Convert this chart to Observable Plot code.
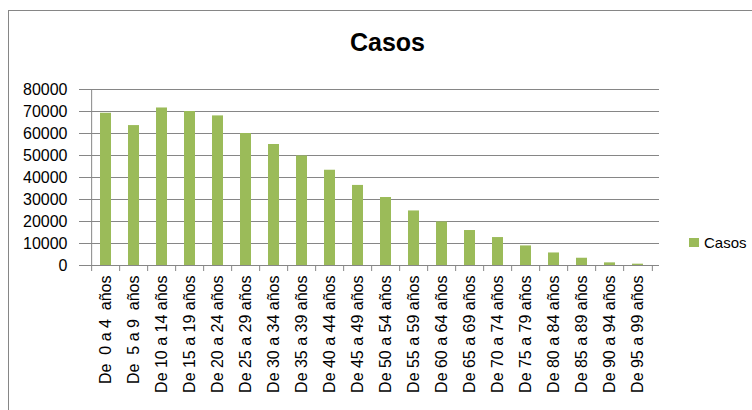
<!DOCTYPE html>
<html>
<head>
<meta charset="utf-8">
<script src="https://cdn.jsdelivr.net/npm/d3@7"></script>
<script src="https://cdn.jsdelivr.net/npm/@observablehq/plot@0.6"></script>
<style>
  html, body { margin: 0; padding: 0; background: #fff; overflow: hidden; }
  #wrap { position: relative; width: 752px; height: 410px; overflow: hidden; font-family: "Liberation Sans", Arial, sans-serif; }
  #frame { position: absolute; left: 8px; top: 10px; width: 900px; height: 600px; border: 1px solid #868686; box-sizing: border-box; }
  #title { position: absolute; left: 0; width: 775px; top: 28px; text-align: center; font-size: 25px; font-weight: bold; color: #000; }
  #legend { position: absolute; left: 689px; top: 234px; font-size: 15px; color: #000; display: flex; align-items: center; }
  #legend .sw { width: 10px; height: 9px; background: #9bbb59; margin-right: 5px; }
  #chart { position: absolute; left: 0; top: 0; }
  svg text { white-space: pre; }
</style>
</head>
<body>
<div id="wrap">
  <div id="frame"></div>
  <div id="chart"></div>
  <div id="title">Casos</div>
  <div id="legend"><div class="sw"></div><span>Casos</span></div>
</div>
<script>
const categories = [
  "De  0 a 4  años", "De  5 a 9  años", "De 10 a 14 años", "De 15 a 19 años",
  "De 20 a 24 años", "De 25 a 29 años", "De 30 a 34 años", "De 35 a 39 años",
  "De 40 a 44 años", "De 45 a 49 años", "De 50 a 54 años", "De 55 a 59 años",
  "De 60 a 64 años", "De 65 a 69 años", "De 70 a 74 años", "De 75 a 79 años",
  "De 80 a 84 años", "De 85 a 89 años", "De 90 a 94 años", "De 95 a 99 años"
];
const casos = [
  69200, 63600, 71600, 70000, 68000, 60000, 55000, 49800, 43300, 36400,
  30900, 24800, 19800, 15900, 12700, 8900, 5700, 3300, 1200, 600
];
const yTicks = [0, 10000, 20000, 30000, 40000, 50000, 60000, 70000, 80000];

const data = categories.map((c, i) => ({cat: c, casos: casos[i]}));

const W = 752, H = 410, ML = 85, MR = 93, MT = 89, MB = 145;
const step = (W - ML - MR) / categories.length;
const gray = "#868686";

const chart = Plot.plot({
  width: W,
  height: H,
  marginLeft: ML,
  marginRight: MR,
  marginTop: MT,
  marginBottom: MB,
  style: {fontFamily: "'Liberation Sans', Arial, sans-serif", fontSize: "16px", color: "#000", background: "transparent"},
  x: {type: "band", domain: categories, paddingInner: 0.6, paddingOuter: 0.3, axis: null, label: null},
  y: {domain: [0, 80000], axis: null, label: null},
  marks: [
    Plot.gridY(yTicks, {stroke: gray, strokeOpacity: 1}),
    Plot.barY(data, {x: "cat", y: "casos", fill: "#9bbb59"}),
    Plot.ruleY([0], {stroke: gray}),
    Plot.ruleX([categories[0]], {dx: -step / 2, stroke: gray}),
    Plot.axisY(yTicks, {label: null, tickSize: 6, tickPadding: 12, tickFormat: d => String(d), stroke: gray, fill: "#000", fontSize: 16}),
    Plot.axisX({label: null, tickSize: 6, dx: -step / 2, tickFormat: () => "", stroke: gray}),
    Plot.axisX([categories[categories.length - 1]], {label: null, tickSize: 6, dx: step / 2, tickFormat: () => "", stroke: gray}),
    Plot.axisX({label: null, tickSize: 0, tickPadding: 10, tickRotate: -90, tickFormat: d => d, fill: "#000", fontSize: 16})
  ]
});
document.getElementById("chart").appendChild(chart);
</script>
</body>
</html>
